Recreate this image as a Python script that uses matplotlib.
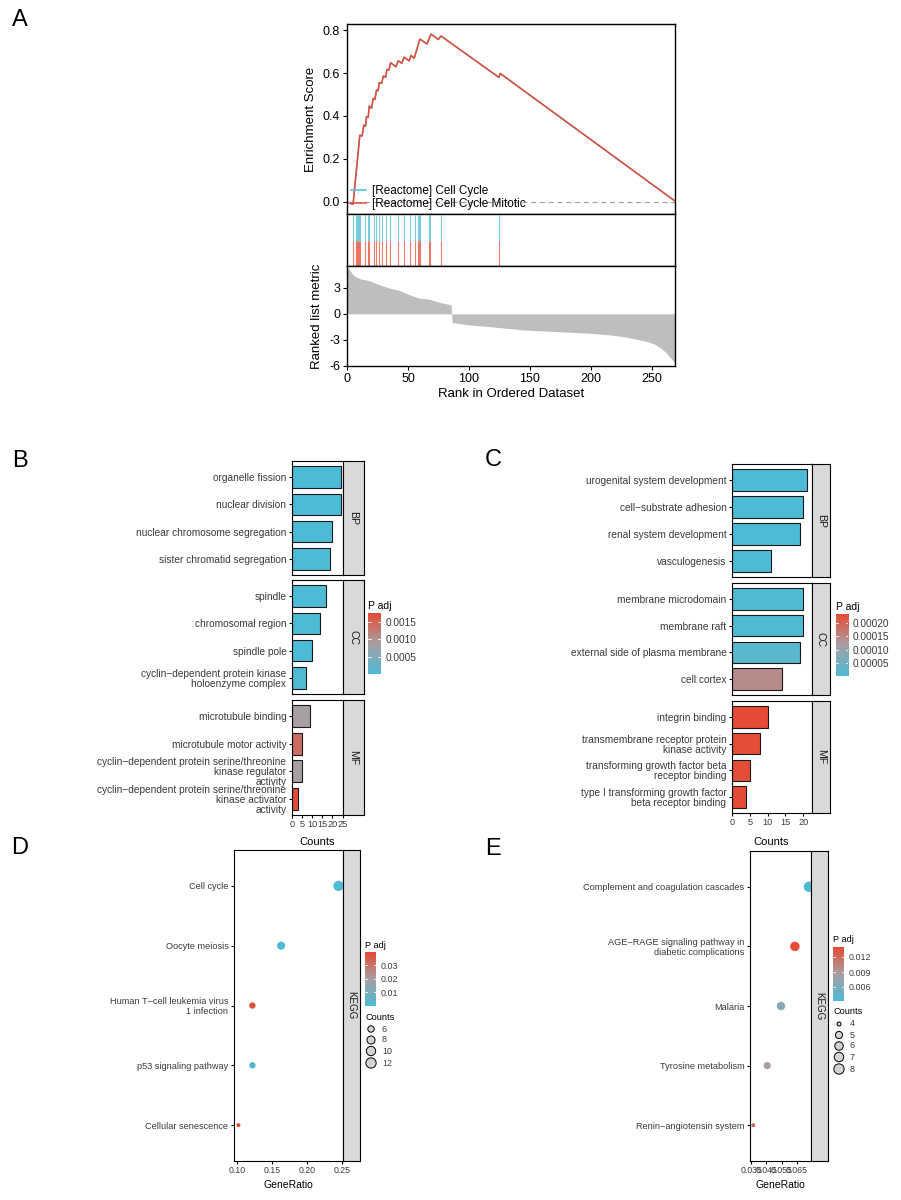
import numpy as np
import matplotlib
matplotlib.use('Agg')
import matplotlib.pyplot as plt
from matplotlib.colors import LinearSegmentedColormap, Normalize

plt.rcParams['font.family'] = ['Liberation Sans', 'DejaVu Sans']
plt.rcParams['axes.unicode_minus'] = False

W, H = 901, 1200
BLUE = '#4DBBD5'
RED = '#E64B35'
TXT = '#3A3A3A'
padj_cmap = LinearSegmentedColormap.from_list('padj', [BLUE, '#A89FA3', RED])

# ---------------- A: GSEA ----------------
gsea_sets = ['[Reactome] Cell Cycle', '[Reactome] Cell Cycle Mitotic']
es_rank = [0, 4, 5, 10.5, 12.4, 13.8, 15.2, 16, 17.4, 18.2, 20.1, 21.5, 22.9, 24.2, 25.6,
           26.4, 28.4, 29.8, 31.7, 32.8, 34.4, 35.8, 40, 42.1, 44.9, 46.8, 51, 52.6, 55.1,
           59.8, 65.6, 68.9, 74.9, 77.1, 124.5, 125.6, 270]
es_score = [0, -0.009, -0.01, 0.31, 0.307, 0.358, 0.353, 0.397, 0.394, 0.446, 0.436, 0.482,
            0.477, 0.521, 0.518, 0.555, 0.552, 0.586, 0.580, 0.617, 0.614, 0.648, 0.629,
            0.657, 0.645, 0.673, 0.657, 0.682, 0.668, 0.758, 0.735, 0.781, 0.756, 0.772,
            0.580, 0.598, 0.0]
hit_ranks = [5, 7, 8, 9, 10, 11, 15, 17, 18, 22, 24, 26, 29, 32, 35, 42, 47, 52, 56, 58,
             59, 60, 67, 68, 77, 125]
metric_rank = [0, 2.75, 5.5, 11, 18, 26, 34.4, 42.7, 51, 59, 67.5, 73, 78.5, 85.4,
               86.2, 100.5, 117, 144.6, 172, 200, 216, 227, 238, 246.6, 252, 257.6,
               261.7, 265.8, 268.6, 270]
metric_value = [5.5, 4.95, 4.44, 4.05, 3.86, 3.4, 3.0, 2.73, 2.22, 1.83, 1.71, 1.44, 1.25,
                1.05, -1.01, -1.29, -1.48, -1.87, -2.06, -2.26, -2.45, -2.65, -2.96, -3.23,
                -3.5, -4.0, -4.5, -5.2, -5.7, -6.0]

# ---------------- B: GO (up) ----------------
b_terms = ['organelle fission', 'nuclear division', 'nuclear chromosome segregation',
           'sister chromatid segregation', 'spindle', 'chromosomal region', 'spindle pole',
           'cyclin\u2212dependent protein kinase\nholoenzyme complex',
           'microtubule binding', 'microtubule motor activity',
           'cyclin\u2212dependent protein serine/threonine\nkinase regulator\nactivity',
           'cyclin\u2212dependent protein serine/threonine\nkinase activator\nactivity']
b_ontology = ['BP'] * 4 + ['CC'] * 4 + ['MF'] * 4
b_counts = [24, 24, 20, 19, 17, 14, 10, 7, 9, 5, 5, 3]
b_padj = [1e-5, 1e-5, 1e-5, 1e-5, 2e-5, 2e-5, 3e-5, 5e-5, 0.00088, 0.0014, 0.00088, 0.00176]

# ---------------- C: GO (down) ----------------
c_terms = ['urogenital system development', 'cell\u2212substrate adhesion',
           'renal system development', 'vasculogenesis', 'membrane microdomain',
           'membrane raft', 'external side of plasma membrane', 'cell cortex',
           'integrin binding', 'transmembrane receptor protein\nkinase activity',
           'transforming growth factor beta\nreceptor binding',
           'type I transforming growth factor\nbeta receptor binding']
c_ontology = ['BP'] * 4 + ['CC'] * 4 + ['MF'] * 4
c_counts = [21, 20, 19, 11, 20, 20, 19, 14, 10, 8, 5, 4]
c_padj = [1e-6, 1e-6, 1e-6, 1e-6, 5e-6, 5e-6, 2e-5, 1.45e-4, 2.34e-4, 2.3e-4, 2.3e-4, 2.34e-4]

# ---------------- D / E: KEGG ----------------
d_terms = ['Cell cycle', 'Oocyte meiosis', 'Human T\u2212cell leukemia virus\n1 infection',
           'p53 signaling pathway', 'Cellular senescence']
d_counts = [12, 8, 6, 6, 5]
d_ratio = [0.245, 0.163, 0.122, 0.122, 0.102]
d_padj = [0.0001, 0.0006, 0.038, 0.0008, 0.0396]
d_size_breaks = [6, 8, 10, 12]

e_terms = ['Complement and coagulation cascades',
           'AGE\u2212RAGE signaling pathway in\ndiabetic complications', 'Malaria',
           'Tyrosine metabolism', 'Renin\u2212angiotensin system']
e_counts = [8, 7, 6, 5, 4]
e_ratio = [0.0727, 0.0636, 0.0545, 0.0455, 0.0364]
e_padj = [0.0032, 0.0140, 0.0068, 0.0088, 0.0121]
e_size_breaks = [4, 5, 6, 7, 8]

fig = plt.figure(figsize=(W / 100, H / 100), dpi=100)


def add_ax(x0, y0, x1, y1):
    return fig.add_axes([x0 / W, 1 - y1 / H, (x1 - x0) / W, (y1 - y0) / H])


def frame(ax, lw=0.8):
    for s in ax.spines.values():
        s.set_linewidth(lw)
        s.set_color('black')


def dot_area(counts, cmin, cmax):
    frac = (np.asarray(counts, float) - cmin) / (cmax - cmin)
    d_px = 4 + 6.3 * np.sqrt(frac)
    return (d_px * 0.72) ** 2


# ---- A ----
ax = add_ax(347, 24, 675, 214)
ax.plot(es_rank, es_score, color=BLUE, lw=1.1, label=gsea_sets[0])
ax.plot(es_rank, es_score, color=RED, lw=1.1, label=gsea_sets[1])
ax.axhline(0, color='#A0A0A0', lw=0.9, ls=(0, (4, 3)))
ax.set_xlim(0, 269)
ax.set_ylim(-0.056, 0.828)
ax.set_xticks([])
ax.set_yticks([0, 0.2, 0.4, 0.6, 0.8])
ax.set_yticklabels(['0.0', '0.2', '0.4', '0.6', '0.8'])
ax.tick_params(axis='y', labelsize=9, length=3, width=0.8, pad=2)
ax.set_ylabel('Enrichment Score', fontsize=9.5, labelpad=4)
ax.legend(loc='upper left', bbox_to_anchor=(351 / W, 1 - 185 / H),
          bbox_transform=fig.transFigure, frameon=False, fontsize=8.5,
          handlelength=1.3, handletextpad=0.45, labelspacing=0.1,
          borderpad=0, borderaxespad=0)
frame(ax, 1.0)

ax = add_ax(347, 214, 675, 266)
ax.vlines(hit_ranks, 0.5, 1, color=BLUE, lw=0.8, alpha=0.75)
ax.vlines(hit_ranks, 0, 0.5, color=RED, lw=0.8, alpha=0.75)
ax.set_xlim(0, 269)
ax.set_ylim(0, 1.02)
ax.set_xticks([])
ax.set_yticks([])
frame(ax, 1.0)

ax = add_ax(347, 266, 675, 366)
ax.fill_between(metric_rank, metric_value, 0, color='#BEBEBE', lw=0)
ax.set_xlim(0, 269)
ax.set_ylim(-6.05, 5.55)
ax.set_yticks([-6, -3, 0, 3])
ax.set_xticks(range(0, 251, 50))
ax.tick_params(labelsize=9, length=3, width=0.8, pad=2)
ax.set_xlabel('Rank in Ordered Dataset', fontsize=9.5, labelpad=2)
ax.set_ylabel('Ranked list metric', fontsize=9.5, labelpad=4)
frame(ax, 1.0)


# ---- B / C ----
def go_bars(x0, x1, xs, spans, terms, groups, counts, padj, xmax, xticks):
    norm = Normalize(min(padj), max(padj))
    for g, (ya, yb) in zip(['BP', 'CC', 'MF'], spans):
        idx = [i for i, o in enumerate(groups) if o == g]
        a = add_ax(x0, ya, x1, yb)
        ypos = np.arange(len(idx), 0, -1)
        a.barh(ypos, [counts[i] for i in idx], height=0.8,
               color=[padj_cmap(norm(padj[i])) for i in idx],
               edgecolor='#1A1A1A', linewidth=0.8)
        a.set_ylim(0.4, len(idx) + 0.6)
        a.set_xlim(0, xmax)
        a.set_yticks(ypos)
        a.set_yticklabels([terms[i] for i in idx], fontsize=7.3, color=TXT, linespacing=1.0)
        a.tick_params(axis='y', length=2.5, width=0.8, pad=1.5)
        if g == 'MF':
            a.set_xticks(xticks)
            a.tick_params(axis='x', labelsize=6.6, length=2.5, width=0.8, pad=1,
                          labelcolor=TXT)
        else:
            a.set_xticks([])
        frame(a)
        s = add_ax(x1, ya, xs, yb)
        s.set_facecolor('#D9D9D9')
        s.set_xticks([])
        s.set_yticks([])
        s.text(0.5, 0.5, g, rotation=-90, ha='center', va='center', fontsize=7.6,
               color='#1A1A1A', transform=s.transAxes)
        frame(s)
    return norm


def colorbar(x0, y0, x1, y1, norm, ticks, labels, fs):
    c = add_ax(x0, y0, x1, y1)
    grad = np.linspace(norm.vmin, norm.vmax, 256)[:, None]
    c.imshow(grad, aspect='auto', cmap=padj_cmap, norm=norm, origin='lower',
             extent=[0, 1, norm.vmin, norm.vmax])
    for t in ticks:
        c.plot([0, 0.2], [t, t], color='white', lw=0.6)
        c.plot([0.8, 1], [t, t], color='white', lw=0.6)
    c.set_xlim(0, 1)
    c.set_ylim(norm.vmin, norm.vmax)
    c.set_xticks([])
    c.yaxis.tick_right()
    c.set_yticks(ticks)
    c.set_yticklabels(labels)
    c.tick_params(axis='y', length=0, pad=3, labelsize=fs, labelcolor=TXT)
    for s in c.spines.values():
        s.set_visible(False)


nb = go_bars(292, 343, 364, [(461, 575), (580, 694), (700, 815)], b_terms, b_ontology,
             b_counts, b_padj, 25.2, [0, 5, 10, 15, 20, 25])
colorbar(368, 613, 381, 674, nb, [0.0005, 0.0010, 0.0015], ['0.0005', '0.0010', '0.0015'], 7.3)

nc = go_bars(732, 812, 830, [(464, 577), (583, 695), (701, 813)], c_terms, c_ontology,
             c_counts, c_padj, 22.5, [0, 5, 10, 15, 20])
colorbar(836, 614, 848, 676, nc, [0.00005, 0.00010, 0.00015, 0.00020],
         ['0.00005', '0.00010', '0.00015', '0.00020'], 7.3)


# ---- D / E ----
def kegg_dots(x0, x1, xs, ya, yb, terms, counts, ratio, padj, xlim, xticks, xlabels):
    norm = Normalize(min(padj), max(padj))
    a = add_ax(x0, ya, x1, yb)
    ypos = np.arange(len(terms), 0, -1)
    a.scatter(ratio, ypos, s=dot_area(counts, min(counts), max(counts)),
              c=[padj_cmap(norm(p)) for p in padj], edgecolors='none', zorder=3)
    a.set_ylim(0.4, len(terms) + 0.6)
    a.set_xlim(*xlim)
    a.set_yticks(ypos)
    a.set_yticklabels(terms, fontsize=6.6, color=TXT, linespacing=1.1)
    a.set_xticks(xticks)
    a.set_xticklabels(xlabels)
    a.tick_params(axis='y', length=2.5, width=0.8, pad=1.5)
    a.tick_params(axis='x', labelsize=6.3, length=2.5, width=0.8, pad=1, labelcolor=TXT)
    frame(a)
    s = add_ax(x1, ya, xs, yb)
    s.set_facecolor('#D9D9D9')
    s.set_xticks([])
    s.set_yticks([])
    s.text(0.5, 0.5, 'KEGG', rotation=-90, ha='center', va='center', fontsize=7,
           color='#1A1A1A', transform=s.transAxes)
    frame(s)
    return norm


nd = kegg_dots(234, 343, 360, 850, 1161, d_terms, d_counts, d_ratio, d_padj,
               (0.0957, 0.2514), [0.10, 0.15, 0.20, 0.25], ['0.10', '0.15', '0.20', '0.25'])
colorbar(365, 952, 376, 1006, nd, [0.01, 0.02, 0.03], ['0.01', '0.02', '0.03'], 6.4)

ne = kegg_dots(750, 811, 828, 851, 1161, e_terms, e_counts, e_ratio, e_padj,
               (0.0343, 0.0741), [0.035, 0.045, 0.055, 0.065],
               ['0.035', '0.045', '0.055', '0.065'])
colorbar(833, 947, 844, 1001, ne, [0.006, 0.009, 0.012], ['0.006', '0.009', '0.012'], 6.4)

# ---- overlay: letters, titles, size legends ----
ov = fig.add_axes([0, 0, 1, 1])
ov.set_xlim(0, W)
ov.set_ylim(H, 0)
ov.axis('off')

for letter, (lx, ly) in zip('ABCDE', [(20, 20), (20, 461), (493, 460), (20, 848), (493, 849)]):
    ov.text(lx, ly, letter, fontsize=17, ha='center', va='center')

ov.text(317, 842, 'Counts', fontsize=8, ha='center', va='center')
ov.text(771, 842, 'Counts', fontsize=8, ha='center', va='center')
ov.text(288, 1185, 'GeneRatio', fontsize=7.5, ha='center', va='center')
ov.text(780, 1185, 'GeneRatio', fontsize=7.5, ha='center', va='center')

ov.text(368, 606, 'P adj', fontsize=7.5, ha='left', va='center')
ov.text(836, 607, 'P adj', fontsize=7.5, ha='left', va='center')
ov.text(365, 945, 'P adj', fontsize=6.6, ha='left', va='center')
ov.text(833, 940, 'P adj', fontsize=6.6, ha='left', va='center')


def size_legend(x, y_title, ys, breaks, counts):
    ov.text(x - 6, y_title, 'Counts', fontsize=6.6, ha='left', va='center')
    ov.scatter([x] * len(breaks), ys, s=dot_area(breaks, min(counts), max(counts)),
               facecolor='#D3D3D3', edgecolor='black', lw=0.7)
    for v, yy in zip(breaks, ys):
        ov.text(x + 11, yy, str(v), fontsize=6.4, color=TXT, ha='left', va='center')


size_legend(371, 1017, [1029, 1040, 1051, 1063], d_size_breaks, d_counts)
size_legend(839, 1012, [1024, 1035, 1046, 1057, 1069], e_size_breaks, e_counts)

fig.savefig('out.png', dpi=100)
